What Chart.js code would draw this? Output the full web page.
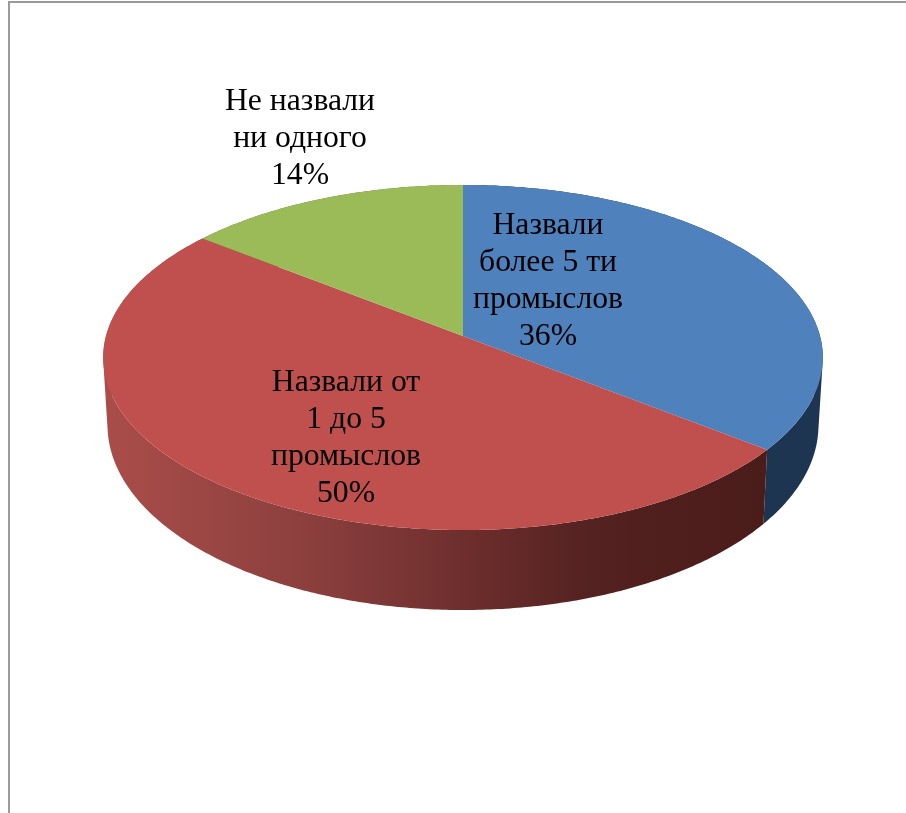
<!DOCTYPE html>
<html>
<head>
<meta charset="utf-8">
<style>
  html, body { margin: 0; padding: 0; background: #fff; }
  canvas { display: block; }
</style>
<script src="https://cdn.jsdelivr.net/npm/chart.js@4/dist/chart.umd.min.js"></script>
</head>
<body>
<canvas id="pie" width="906" height="813"></canvas>
<script>
// order = clockwise from the top, like in the original
const categories = [
    ['Назвали', 'более 5 ти', 'промыслов'],
    ['Назвали от', '1 до 5', 'промыслов'],
    ['Не назвали', 'ни одного']
];
const shares = [35.6, 50, 14.4];
const topColors = ['#4f81bd', '#c0504d', '#9bbb59'];
const labelCenters = [[548, 233.5], [346, 390.5], [300, 110]];

const LINE_HEIGHT = 37;

// perspective of the tilted disc, measured on the picture
const TILT = -0.1246;
const TOP_FACE = { a: 128, dy: 0, k: 1 };
const BOTTOM_FACE = { a: 132, dy: 66, k: 0.988 };

function project(el, angle, face) {
    const s = Math.sin(angle);
    const w = 1 + TILT * s;
    return {
        x: el.x + el.outerRadius * face.k * Math.cos(angle) / w,
        y: (face.a * s + el.y + face.dy) / w
    };
}

function arcPoints(el, face, from, to) {
    const pts = [];
    const steps = Math.max(2, Math.ceil(Math.abs(to - from) / 0.01));
    for (let i = 0; i <= steps; i++) {
        pts.push(project(el, from + (to - from) * i / steps, face));
    }
    return pts;
}

function wallFill(ctx, index) {
    if (index === 0) return '#1d3550';
    if (index === 2) return '#5d7033';
    const g = ctx.createLinearGradient(105, 0, 765, 0);
    g.addColorStop(0, '#aa4d4a');
    g.addColorStop(0.3, '#8c403e');
    g.addColorStop(0.55, '#6d2e2d');
    g.addColorStop(0.75, '#522120');
    g.addColorStop(1, '#4a1c1a');
    return g;
}

function signedArea(q) {
    let sum = 0;
    q.forEach((p, n) => {
        const r = q[(n + 1) % q.length];
        sum += p.x * r.y - r.x * p.y;
    });
    return sum;
}

const pie3d = {
    id: 'pie3d',
    beforeDraw(chart) {
        const ctx = chart.ctx;
        ctx.save();
        ctx.strokeStyle = '#9a9a9a';
        ctx.lineWidth = 2;
        ctx.beginPath();
        ctx.moveTo(9, chart.height);
        ctx.lineTo(9, 2);
        ctx.lineTo(chart.width, 2);
        ctx.stroke();
        ctx.restore();
    },
    beforeDatasetsDraw(chart) {
        const ctx = chart.ctx;
        const arcs = chart.getDatasetMeta(0).data;

        // side walls first, the top face covers what is behind
        // all quads in one path with the same winding: no seams, and the outline
        // gets the tangent edge of a real cylinder
        [2, 0, 1].forEach(i => {
            const el = arcs[i];
            const upper = arcPoints(el, TOP_FACE, el.startAngle, el.endAngle);
            const lower = arcPoints(el, BOTTOM_FACE, el.startAngle, el.endAngle);
            ctx.beginPath();
            for (let n = 0; n < upper.length - 1; n++) {
                const q = [upper[n], upper[n + 1], lower[n + 1], lower[n]];
                if (signedArea(q) < 0) q.reverse();
                q.forEach((p, m) => m ? ctx.lineTo(p.x, p.y) : ctx.moveTo(p.x, p.y));
                ctx.closePath();
            }
            ctx.fillStyle = wallFill(ctx, i);
            ctx.fill('nonzero');
        });

        arcs.forEach(el => {
            ctx.beginPath();
            ctx.moveTo(el.x, el.y);
            arcPoints(el, TOP_FACE, el.startAngle, el.endAngle).forEach(p => ctx.lineTo(p.x, p.y));
            ctx.closePath();
            ctx.fillStyle = el.options.backgroundColor;
            ctx.fill();
        });
        return false;
    },
    afterDraw(chart) {
        const ctx = chart.ctx;
        ctx.save();
        ctx.fillStyle = '#000';
        ctx.font = '31.7px "Liberation Serif"';
        ctx.textAlign = 'center';
        ctx.textBaseline = 'alphabetic';
        categories.forEach((lines, i) => {
            const all = lines.concat(Math.round(shares[i]) + '%');
            all.forEach((t, n) => ctx.fillText(t, labelCenters[i][0], labelCenters[i][1] + n * LINE_HEIGHT));
        });
        ctx.restore();
    }
};

new Chart(document.getElementById('pie'), {
    type: 'pie',
    data: {
        labels: categories.map(c => c.join(' ')),
        datasets: [{ data: shares, backgroundColor: topColors, borderWidth: 0, radius: 357 }]
    },
    options: {
        responsive: false,
        animation: false,
        layout: { padding: { left: 20, bottom: 141 } },
        plugins: { legend: { display: false }, tooltip: { enabled: false } }
    },
    plugins: [pie3d]
});
</script>
</body>
</html>
